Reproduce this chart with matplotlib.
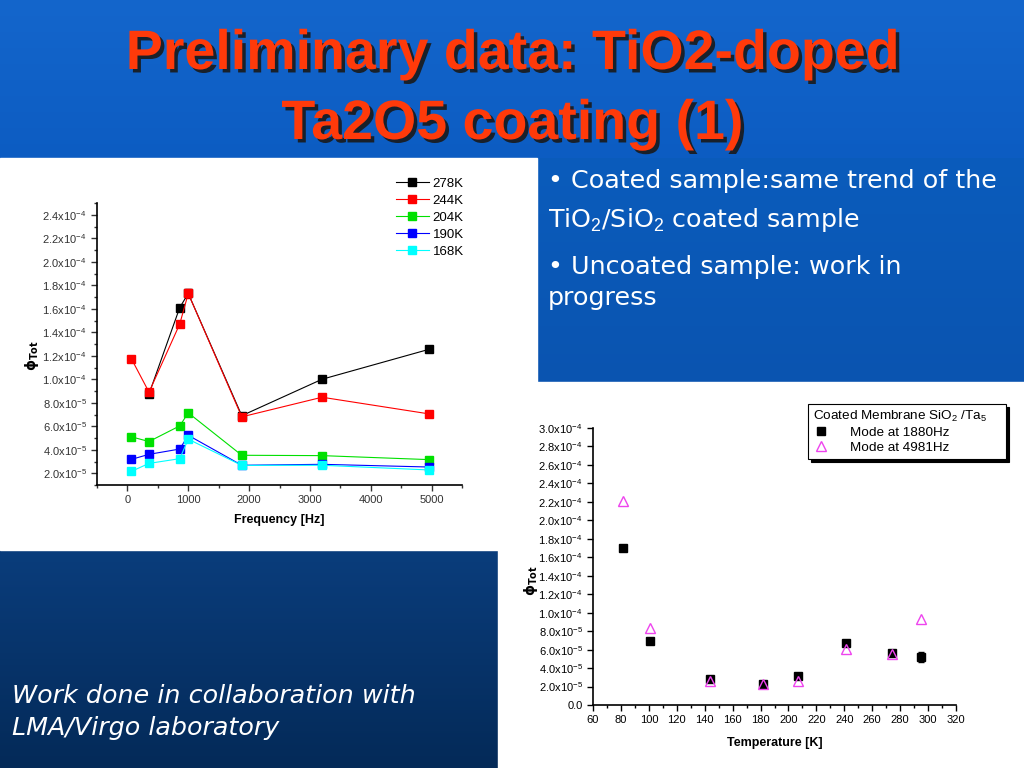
import numpy as np
import matplotlib
matplotlib.use("Agg")
import matplotlib.pyplot as plt
import matplotlib.patheffects as pe
from matplotlib.patches import Rectangle
from matplotlib.lines import Line2D
from matplotlib.colors import LinearSegmentedColormap
from matplotlib.ticker import MultipleLocator, FuncFormatter

# left chart: loss angle vs frequency, one series per temperature
freq_labels = ["278K", "244K", "204K", "190K", "168K"]
freq_colors = ["#000000", "#ff0000", "#00e000", "#0000ff", "#00ffff"]
freq_x = {
    "278K": [355, 860, 1000, 1880, 3200, 4960],
    "244K": [65, 355, 860, 1000, 1880, 3200, 4960],
    "204K": [65, 355, 860, 1000, 1880, 3200, 4960],
    "190K": [65, 355, 860, 1000, 1880, 3200, 4960],
    "168K": [65, 355, 860, 1000, 1880, 3200, 4960],
}
freq_y = {
    "278K": [0.875e-4, 1.61e-4, 1.73e-4, 0.69e-4, 1.00e-4, 1.255e-4],
    "244K": [1.175e-4, 0.89e-4, 1.47e-4, 1.73e-4, 0.68e-4, 0.847e-4, 0.705e-4],
    "204K": [0.51e-4, 0.47e-4, 0.603e-4, 0.714e-4, 0.353e-4, 0.35e-4, 0.316e-4],
    "190K": [0.318e-4, 0.361e-4, 0.406e-4, 0.523e-4, 0.268e-4, 0.276e-4, 0.253e-4],
    "168K": [0.216e-4, 0.284e-4, 0.324e-4, 0.49e-4, 0.267e-4, 0.268e-4, 0.228e-4],
}
freq_err = {
    "278K": [0, 0, 0.03e-4, 0, 0, 0],
    "244K": [0, 0, 0, 0.04e-4, 0, 0, 0],
    "204K": [0, 0, 0, 0, 0, 0, 0],
    "190K": [0, 0, 0, 0.02e-4, 0, 0, 0],
    "168K": [0, 0, 0, 0, 0, 0, 0],
}

# right chart: loss angle vs temperature for two modes
temp = [81.5, 100.5, 143.5, 182, 206.5, 241, 274, 295]
mode_1880 = [1.70e-4, 0.693e-4, 0.282e-4, 0.231e-4, 0.317e-4, 0.675e-4, 0.563e-4, 0.52e-4]
mode_1880_err = [0, 0, 0, 0, 0, 0, 0, 0.05e-4]
mode_4981 = [2.205e-4, 0.837e-4, 0.256e-4, 0.223e-4, 0.263e-4, 0.61e-4, 0.552e-4, 0.931e-4]

title_lines = ["Preliminary data: TiO2-doped", "Ta2O5 coating (1)"]


def sci_fmt(v, pos):
    if abs(v) < 1e-12:
        return "0.0"
    e = int(np.floor(np.log10(abs(v))))
    m = v / 10 ** e
    return r"%.1fx10$^{%d}$" % (m, e)


plt.rcParams['font.family'] = ['Liberation Sans', 'DejaVu Sans']
plt.rcParams['mathtext.fontset'] = 'custom'
plt.rcParams['mathtext.rm'] = 'Liberation Sans'

W, H = 1024, 768
fig = plt.figure(figsize=(W / 100, H / 100), dpi=100)

# slide background
bg = fig.add_axes([0, 0, 1, 1])
bg.set_xlim(0, W)
bg.set_ylim(H, 0)
bg.axis("off")
grad = np.linspace(0, 1, 256).reshape(-1, 1)
bg.imshow(grad, extent=[0, W, 160, 0], cmap=LinearSegmentedColormap.from_list(
    "t", ["#1466cc", "#0c5cc2"]), aspect="auto", zorder=0)
bg.imshow(grad, extent=[537, W, 382, 158], cmap=LinearSegmentedColormap.from_list(
    "r", ["#0b5cbc", "#0a54b0"]), aspect="auto", zorder=0)
bg.imshow(grad, extent=[0, 498, H, 550], cmap=LinearSegmentedColormap.from_list(
    "b", ["#0a3d7c", "#042a58"]), aspect="auto", zorder=0)
bg.add_patch(Rectangle((0, 158), 537, 392, color="white", zorder=1))
bg.add_patch(Rectangle((498, 382), W - 498, H - 382, color="white", zorder=1))

shadow = [pe.withSimplePatchShadow(offset=(2.5, -2.5), shadow_rgbFace="#1a1a1a", alpha=0.9)]
for i, line in enumerate(title_lines):
    bg.text(W / 2, 69 + i * 70, line, ha="center", va="baseline", fontsize=40, fontweight="bold",
            color="#ff3a0a", path_effects=shadow, zorder=3)

txt = dict(color="white", fontsize=18.3, family=["Verdana", "DejaVu Sans"], va="center", zorder=3)
bg.text(548, 181, u"\u2022 Coated sample:same trend of the", **txt)
bg.text(548, 220, r"TiO$_2$/SiO$_2$ coated sample", **txt)
bg.text(548, 267, u"\u2022 Uncoated sample: work in", **txt)
bg.text(548, 298, "progress", **txt)

itxt = dict(color="white", fontsize=18.3, style="italic", family=["DejaVu Sans"], va="center", zorder=3)
bg.text(12, 696, "Work done in collaboration with", **itxt)
bg.text(12, 728, "LMA/Virgo laboratory", **itxt)

# left chart
ax1 = fig.add_axes([97 / W, 1 - 485 / H, 365 / W, 282 / H])
handles = []
for lab, col in zip(freq_labels, freq_colors):
    ax1.errorbar(freq_x[lab], freq_y[lab], yerr=freq_err[lab], color=col, lw=0.8,
                 marker="s", ms=5.5, mec=col, mfc=col, elinewidth=0.8, capsize=2)
    handles.append(Line2D([], [], color=col, lw=0.8, marker="s", ms=5.5, label=lab))
ax1.set_xlim(-500, 5500)
ax1.set_ylim(1e-5, 2.5e-4)
ax1.xaxis.set_major_locator(MultipleLocator(1000))
ax1.xaxis.set_minor_locator(MultipleLocator(500))
ax1.yaxis.set_major_locator(MultipleLocator(2e-5))
ax1.yaxis.set_minor_locator(MultipleLocator(1e-5))
ax1.yaxis.set_major_formatter(FuncFormatter(sci_fmt))
for s in ["top", "right"]:
    ax1.spines[s].set_visible(False)
for s in ["left", "bottom"]:
    ax1.spines[s].set_linewidth(1.2)
ax1.tick_params(which="both", direction="out", labelsize=8, colors="#333333", width=1)
ax1.tick_params(which="major", length=4)
ax1.tick_params(which="minor", length=2.5)
ax1.set_xlabel("Frequency [Hz]", fontsize=9, fontweight="bold", labelpad=6)
ax1.set_ylabel(r"$\mathbf{\phi}_{\mathbf{Tot}}$", fontsize=10)
ax1.yaxis.set_label_coords(-0.153, 0.46)
ax1.legend(handles=handles, loc="upper right", bbox_to_anchor=(1.005, 1.09), frameon=False,
           fontsize=9.5, handlelength=2.5, handletextpad=0.3, labelspacing=0.36,
           borderaxespad=0, borderpad=0)

# right chart
ax2 = fig.add_axes([593 / W, 1 - 705 / H, 363 / W, 277 / H])
ax2.errorbar(temp, mode_1880, yerr=mode_1880_err, fmt="s", color="black", ms=5.5,
             elinewidth=0.8, capsize=2, zorder=3)
ax2.plot(temp, mode_4981, "^", mfc="none", mec="#ee44ee", ms=6.5, mew=1, zorder=4)
ax2.set_xlim(60, 320)
ax2.set_ylim(0, 3.0e-4)
ax2.xaxis.set_major_locator(MultipleLocator(20))
ax2.xaxis.set_minor_locator(MultipleLocator(10))
ax2.yaxis.set_major_locator(MultipleLocator(2e-5))
ax2.yaxis.set_major_formatter(FuncFormatter(sci_fmt))
for s in ["top", "right"]:
    ax2.spines[s].set_visible(False)
for s in ["left", "bottom"]:
    ax2.spines[s].set_linewidth(1.2)
ax2.tick_params(which="both", direction="out", labelsize=8, colors="black", width=1)
ax2.tick_params(which="major", length=4)
ax2.tick_params(which="minor", length=2.5)
ax2.set_xlabel("Temperature [K]", fontsize=9, fontweight="bold", labelpad=8)
ax2.set_ylabel(r"$\mathbf{\phi}_{\mathbf{Tot}}$", fontsize=10)
ax2.yaxis.set_label_coords(-0.147, 0.45)
h2 = [Line2D([], [], ls="none", marker="s", color="black", ms=5.5, label="Mode at 1880Hz"),
      Line2D([], [], ls="none", marker="^", mfc="none", mec="#ee44ee", ms=6.5, label="Mode at 4981Hz")]
leg = ax2.legend(handles=h2, loc="upper left",
                 bbox_to_anchor=(808 / W, 1 - 460 / H, 198 / W, 56 / H), mode="expand",
                 bbox_transform=fig.transFigure,
                 title=r"Coated Membrane SiO$_2$ /Ta$_5$", title_fontsize=9.7, fontsize=9.7,
                 fancybox=False, shadow={"color": "black", "alpha": 1}, edgecolor="black",
                 framealpha=1, borderaxespad=0, handlelength=1.2, handletextpad=1.6,
                 labelspacing=0.2, borderpad=0.35, alignment="left")
leg.get_frame().set_linewidth(0.8)

fig.savefig("out.png", dpi=100)
